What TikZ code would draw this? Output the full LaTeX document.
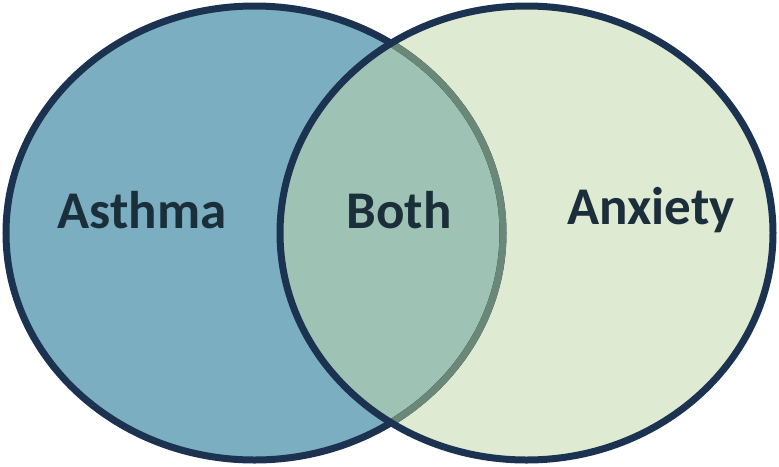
\documentclass[tikz,border=0pt]{standalone}
\usepackage{fontspec}
\setmainfont{Carlito}
\usepackage{tikz}

\definecolor{asthmablue}{HTML}{7AAEC0}
\definecolor{anxietygreen}{HTML}{DEEAD2}
\definecolor{bothgreen}{HTML}{9EC3B5}
\definecolor{rimnavy}{HTML}{1B3250}
\definecolor{rimgrey}{HTML}{6B8778}
\definecolor{labelnavy}{HTML}{1B2F3B}

\begin{document}
\begin{tikzpicture}[
    x=1pt, y=-1pt,
    rim/.style={line width=7pt},
    setlabel/.style={font=\fontsize{53}{58}\selectfont\bfseries, text=labelnavy}
]
\useasboundingbox (0,0) rectangle (779,466);
\def\leftset{(254.5,233) ellipse [x radius=248.5, y radius=227]}
\def\rightset{(526.5,233) ellipse [x radius=246.5, y radius=227]}

% fills
\fill[asthmablue] \leftset;
\fill[anxietygreen] \rightset;
\begin{scope}
  \clip \leftset;
  \fill[bothgreen] \rightset;
\end{scope}

% rims
\draw[rim, rimnavy] \leftset;
\begin{scope}
  \clip \rightset;
  \draw[rim, rimgrey] \leftset;
\end{scope}
\draw[rim, rimnavy] \rightset;

% labels
\node[setlabel] (asthma) at (142,210) {Asthma};
\node[setlabel] (both) at (399,210) {Both};
\node[setlabel] (anxiety) at (651,210) {Anxiety};
\end{tikzpicture}
\end{document}
